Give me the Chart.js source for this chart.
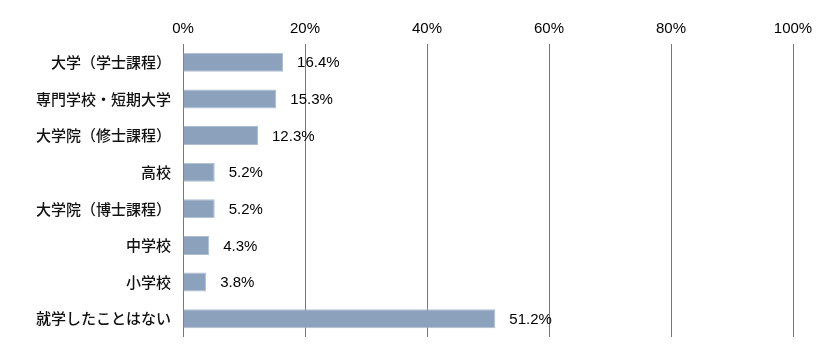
<!DOCTYPE html>
<html>
<head>
<meta charset="utf-8">
<script src="https://cdn.jsdelivr.net/npm/chart.js@4"></script>
<style>
  html, body { margin: 0; padding: 0; background: #fff; }
  #wrap { width: 830px; height: 364px; }
</style>
</head>
<body>
<div id="wrap"><canvas id="chart"></canvas></div>
<script>
// データ
const categories = ['大学（学士課程）', '専門学校・短期大学', '大学院（修士課程）', '高校', '大学院（博士課程）', '中学校', '小学校', '就学したことはない'];
const values = [16.4, 15.3, 12.3, 5.2, 5.2, 4.3, 3.8, 51.2];
const tickValues = [0, 20, 40, 60, 80, 100];

// バーの右側に値を描く
const valueLabels = {
    id: 'valueLabels',
    afterDatasetsDraw(chart) {
        const ctx = chart.ctx;
        const meta = chart.getDatasetMeta(0);
        ctx.save();
        ctx.font = '15px "Liberation Sans", Arial, sans-serif';
        ctx.fillStyle = '#000';
        ctx.textBaseline = 'middle';
        ctx.textAlign = 'left';
        meta.data.forEach((bar, i) => {
            ctx.fillText(values[i].toFixed(1) + '%', bar.x + 14, bar.y + 1);
        });
        ctx.restore();
    }
};

new Chart(document.getElementById('chart'), {
    type: 'bar',
    data: {
        labels: categories,
        datasets: [{
            data: values,
            backgroundColor: '#8CA2BC',
            borderColor: '#AEBDD0',
            borderWidth: 1,
            barPercentage: 0.52,
            categoryPercentage: 1
        }]
    },
    options: {
        indexAxis: 'y',
        responsive: true,
        maintainAspectRatio: false,
        animation: false,
        layout: { padding: { left: 0, right: 37, top: 0, bottom: 27 } },
        plugins: {
            legend: { display: false },
            tooltip: { enabled: false }
        },
        scales: {
            x: {
                position: 'top',
                min: 0,
                max: 100,
                afterBuildTicks(scale) {
                    scale.ticks = tickValues.map(v => ({ value: v }));
                },
                afterFit(scale) { scale.height = 44; },
                grid: { color: '#777', lineWidth: 1, drawTicks: false },
                border: { display: false },
                ticks: {
                    padding: 6,
                    color: '#000',
                    font: { family: '"Liberation Sans", Arial, sans-serif', size: 15 },
                    callback: v => v + '%'
                }
            },
            y: {
                afterFit(scale) { scale.width = 183; },
                grid: { display: false, drawTicks: false },
                border: { display: false },
                ticks: {
                    padding: 12,
                    color: '#111',
                    font: { family: '"Noto Sans CJK JP", sans-serif', size: 15, weight: 500 }
                }
            }
        }
    },
    plugins: [valueLabels]
});
</script>
</body>
</html>
